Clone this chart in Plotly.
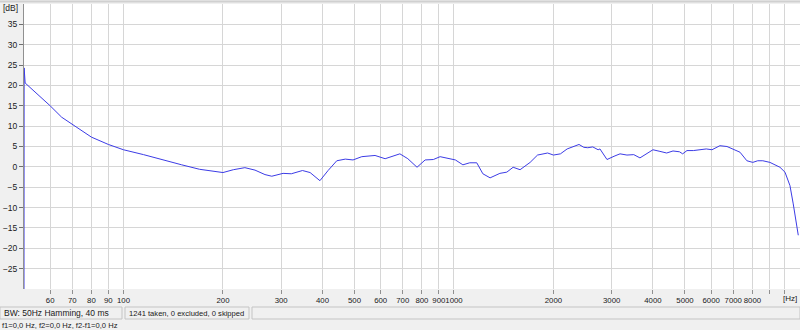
import plotly.graph_objects as go

# ---- data ----
freq_hz = [50, 50.05, 50.4, 55, 60, 65, 70, 75, 80, 90, 100, 115, 135, 150, 170, 190, 200, 215,
           233, 250, 268, 281, 304, 322, 348, 367, 393, 416, 442, 469, 495, 526, 577, 619, 654,
           686, 725, 773, 818, 866, 908, 976, 1010, 1064, 1116, 1172, 1223, 1286, 1377, 1445,
           1510, 1585, 1700, 1790, 1920, 2000, 2100, 2200, 2300, 2390, 2470, 2540, 2630, 2730,
           2765, 2904, 3050, 3180, 3337, 3500, 3654, 3820, 4000, 4200, 4401, 4600, 4812, 4920,
           5070, 5300, 5546, 5800, 6034, 6200, 6378, 6699, 6987, 7335, 7696, 8020, 8300, 8600,
           9036, 9690, 10035, 10390, 10630, 11010]
level_db = [-30, 24.3, 20.6, 17.9, 15.0, 12.2, 10.5, 8.9, 7.3, 5.5, 4.2, 3.0, 1.4, 0.5, -0.6,
            -1.2, -1.4, -0.7, -0.2, -0.8, -1.9, -2.3, -1.6, -1.7, -0.9, -1.4, -3.4, -0.9, 1.5,
            1.9, 1.7, 2.5, 2.8, 2.0, 2.6, 3.2, 2.0, -0.1, 1.7, 1.8, 2.5, 2.0, 1.7, 0.5, 1.0,
            1.0, -1.7, -2.7, -1.6, -1.3, -0.1, -0.7, 1.1, 2.9, 3.4, 2.9, 3.2, 4.4, 4.9, 5.5,
            4.8, 4.7, 4.9, 4.2, 4.4, 1.8, 2.6, 3.2, 2.9, 3.0, 2.2, 3.2, 4.2, 3.8, 3.4, 3.9, 3.7,
            3.2, 4.0, 4.0, 4.2, 4.4, 4.2, 4.6, 5.2, 5.0, 4.4, 3.6, 1.5, 1.1, 1.5, 1.5, 1.1,
            -0.1, -1.3, -4.6, -9.1, -16.8]

x_tickvals = [60, 70, 80, 90, 100, 200, 300, 400, 500, 600, 700, 800, 900, 1000,
              2000, 3000, 4000, 5000, 6000, 7000, 8000, 9000, 10000]
x_ticktext = ["60", "70", "80", "90", "100", "200", "300", "400", "500", "600", "700", "800",
              "900", "1000", "2000", "3000", "4000", "5000", "6000", "7000", "8000", "", ""]
y_tickvals = [-25, -20, -15, -10, -5, 0, 5, 10, 15, 20, 25, 30, 35]

status_left = "BW: 50Hz Hamming, 40 ms"
status_mid = "1241 taken, 0 excluded, 0 skipped"
status_bottom = "f1=0,0 Hz, f2=0,0 Hz, f2-f1=0,0 Hz"

W, H = 800, 330
L, R, T, B = 24, 0, 4, 41
FONT = "Liberation Sans"


def px_x(px):
    return (px - L) / (W - L - R)


def px_y(py):
    return (H - B - py) / (H - T - B)


fig = go.Figure()
fig.add_trace(go.Scatter(x=freq_hz, y=level_db, mode="lines",
                         line=dict(color="#3c3ce6", width=1), hoverinfo="skip"))

fig.update_layout(
    width=W, height=H,
    margin=dict(l=L, r=R, t=T, b=B, pad=0),
    paper_bgcolor="#f0f0f0", plot_bgcolor="#ffffff",
    showlegend=False,
    font=dict(family=FONT, size=9, color="#202020"),
    xaxis=dict(type="log", range=[1.699, 4.047], tickvals=x_tickvals, ticktext=x_ticktext,
               tickangle=0, automargin=False,
               showgrid=True, gridcolor="#d6d6d6", gridwidth=1,
               ticks="outside", ticklen=4, tickcolor="#909090", tickwidth=1,
               showline=False, zeroline=False, tickfont=dict(size=7.8)),
    yaxis=dict(range=[-30, 40], tickvals=y_tickvals, automargin=False,
               showgrid=True, gridcolor="#d6d6d6", gridwidth=1,
               ticks="outside", ticklen=4, tickcolor="#707070", tickwidth=1,
               showline=True, linecolor="#909090", linewidth=1,
               zeroline=False, tickfont=dict(size=8.5)),
)

shapes = []
# status bar boxes
for x0, x1 in [(0, 122), (125, 249), (252, 800)]:
    shapes.append(dict(type="rect", xref="paper", yref="paper",
                       x0=px_x(x0), x1=px_x(x1), y0=px_y(319), y1=px_y(307),
                       line=dict(color="#c4c4c4", width=1), fillcolor="#f0f0f0", layer="above"))
# top strip line
shapes.append(dict(type="line", xref="paper", yref="paper", x0=px_x(0), x1=px_x(800),
                   y0=px_y(1.5), y1=px_y(1.5), line=dict(color="#d0d0d0", width=2)))
fig.update_layout(shapes=shapes)

ann = [
    dict(text="[dB]", x=px_x(1), y=px_y(8), xanchor="left", yanchor="middle", size=8.5),
    dict(text="[Hz]", x=px_x(799), y=px_y(298), xanchor="right", yanchor="middle", size=8),
    dict(text=status_left, x=px_x(2), y=px_y(313), xanchor="left", yanchor="middle", size=8.5),
    dict(text=status_mid, x=px_x(127), y=px_y(313), xanchor="left", yanchor="middle", size=7.6),
    dict(text=status_bottom, x=px_x(0), y=px_y(325), xanchor="left", yanchor="middle", size=7.6),
]
for a in ann:
    sz = a.pop("size")
    a.update(xref="paper", yref="paper", showarrow=False,
             font=dict(family=FONT, size=sz, color="#202020"))
fig.update_layout(annotations=ann)

fig.write_html("out.html")
